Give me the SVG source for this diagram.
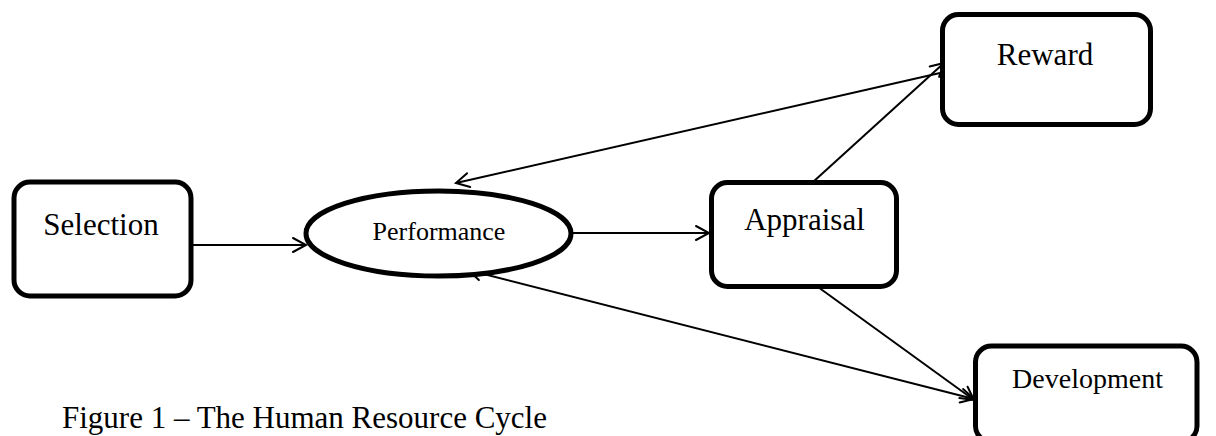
<svg xmlns="http://www.w3.org/2000/svg" width="1216" height="436" viewBox="0 0 1216 436">
  <style>
    .box { fill: #ffffff; stroke: #000000; stroke-width: 5; }
    .conn { stroke: #000000; stroke-width: 2; fill: none; }
    .lbl { font-family: "Liberation Serif", "Times New Roman", serif; fill: #000000; text-anchor: middle; }
  </style>
  <defs>
    <marker id="arrow" markerUnits="userSpaceOnUse" markerWidth="20" markerHeight="20" viewBox="-14 -10 16 20" refX="0" refY="0" orient="auto-start-reverse">
      <path d="M -13 -7 L 0 0 L -13 7" fill="none" stroke="#000000" stroke-width="2" stroke-linecap="round" stroke-linejoin="miter"/>
    </marker>
  </defs>
  <rect width="1216" height="436" fill="#ffffff"/>
  <g id="connectors">
    <line class="conn" x1="191" y1="245" x2="306" y2="245" marker-end="url(#arrow)"/>
    <line class="conn" x1="573" y1="233" x2="709" y2="233" marker-end="url(#arrow)"/>
    <line class="conn" x1="456" y1="183" x2="940" y2="73" marker-start="url(#arrow)"/>
    <line class="conn" x1="813" y1="182" x2="944" y2="63" marker-end="url(#arrow)"/>
    <line class="conn" x1="468" y1="270" x2="974" y2="399" marker-start="url(#arrow)" marker-end="url(#arrow)"/>
    <line class="conn" x1="818" y1="287" x2="974" y2="400" marker-end="url(#arrow)"/>
  </g>
  <g id="selection">
    <rect class="box" x="14" y="182" width="177" height="114" rx="16"/>
    <text class="lbl" x="101" y="235" font-size="31">Selection</text>
  </g>
  <g id="performance">
    <ellipse class="box" cx="438.5" cy="233.5" rx="132.5" ry="42.5" stroke-width="5.5"/>
    <text class="lbl" x="439" y="240" font-size="26">Performance</text>
  </g>
  <g id="appraisal">
    <rect class="box" x="711.5" y="182.5" width="185" height="104" rx="16"/>
    <text class="lbl" x="804.5" y="230" font-size="31">Appraisal</text>
  </g>
  <g id="reward">
    <rect class="box" x="942.5" y="14.5" width="208" height="110" rx="16"/>
    <text class="lbl" x="1045" y="65" font-size="31">Reward</text>
  </g>
  <g id="development">
    <rect class="box" x="975.5" y="346" width="221.5" height="96" rx="16"/>
    <text class="lbl" x="1087.5" y="388" font-size="28">Development</text>
  </g>
  <g id="caption">
    <text x="62" y="428" font-size="31" font-family="Liberation Serif, 'Times New Roman', serif" fill="#000000">Figure 1 – The Human Resource Cycle</text>
  </g>
</svg>
